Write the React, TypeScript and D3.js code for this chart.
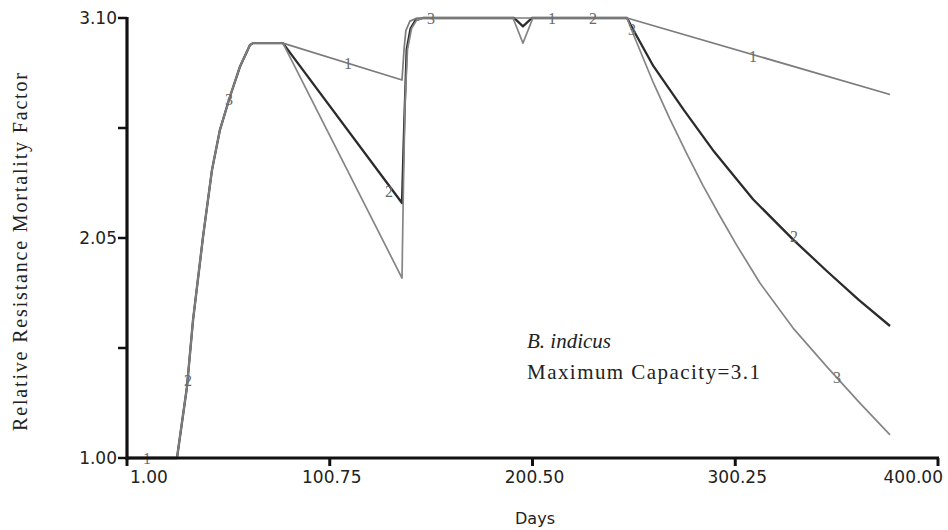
import React, { useEffect, useRef } from "react";
import * as d3 from "d3";

// shared start: all three runs coincide until day ~78
const riseDays = [1, 25.6, 30.5, 33.5, 38.4, 42.8, 46.7, 51.6, 56.5, 61.5, 63, 77.7];
const riseValues = [1.0, 1.0, 1.339, 1.659, 2.055, 2.374, 2.565, 2.723, 2.866, 2.971, 2.98, 2.98];

const days1 = [136.3, 137.3, 138.2, 140.2, 143.7, 247, 376.4];
const values1 = [2.804, 2.95, 3.04, 3.085, 3.1, 3.1, 2.735];

const days2 = [136.3, 137.4, 138.6, 140.5, 143, 146.6, 191.5, 195.8, 200.2, 247, 250, 260, 275, 290, 309, 329, 345, 361, 376.4];
const values2 = [2.217, 2.6, 2.95, 3.05, 3.09, 3.1, 3.1, 3.06, 3.1, 3.1, 3.045, 2.87, 2.66, 2.46, 2.235, 2.04, 1.895, 1.755, 1.63];

const days3 = [136.3, 137.0, 137.8, 139, 141, 143.5, 147, 190.9, 195.8, 200.7, 247, 250, 260, 268, 276.5, 284.4, 292.7, 301, 312.4, 328.7, 345.4, 361.6, 376.4];
const values3 = [1.859, 2.3, 2.7, 2.95, 3.05, 3.09, 3.1, 3.1, 2.98, 3.1, 3.1, 3.025, 2.79, 2.62, 2.45, 2.3, 2.155, 2.015, 1.835, 1.62, 1.435, 1.262, 1.11];

// small run-number markers drawn along the curves
const markerText = ["1", "2", "3", "1", "2", "3", "1", "2", "3", "1", "2", "3"];
const markerDays = [10.8, 31, 51.2, 109.7, 129.9, 150.6, 210.1, 230.3, 249.4, 309, 329.2, 350.3];
const markerValues = [1.0, 1.372, 2.709, 2.885, 2.274, 3.1, 3.1, 3.1, 3.043, 2.914, 2.055, 1.382];

const xTicks = [1.0, 100.75, 200.5, 300.25, 400.0];
const yTicks = [1.0, 1.525, 2.05, 2.575, 3.1];
const yLabelTicks = [1.0, 2.05, 3.1];

const W = 948;
const H = 530;

function Chart() {
    const ref = useRef<SVGSVGElement>(null);

    useEffect(() => {
        const svg = d3.select(ref.current);
        svg.selectAll("*").remove();

        const x = d3.scaleLinear().domain([1, 400]).range([127, 938]);
        const y = d3.scaleLinear().domain([1.0, 3.1]).range([458, 18]);

        const series = [
            { d: riseDays.concat(days2), v: riseValues.concat(values2), color: "#2b2b2b", w: 2.3 },
            { d: riseDays.concat(days3), v: riseValues.concat(values3), color: "#858585", w: 1.7 },
            { d: riseDays.concat(days1), v: riseValues.concat(values1), color: "#7c7c7c", w: 1.7 },
        ];

        const line = d3.line<[number, number]>()
            .x(p => x(p[0]))
            .y(p => y(p[1]));

        series.forEach(s => {
            const pts = s.d.map((d, i) => [d, s.v[i]] as [number, number]);
            svg.append("path")
                .attr("d", line(pts))
                .attr("fill", "none")
                .attr("stroke", s.color)
                .attr("stroke-width", s.w)
                .attr("stroke-linejoin", "round");
        });

        svg.selectAll("text.marker")
            .data(markerText)
            .enter()
            .append("text")
            .attr("class", "marker")
            .attr("x", (d, i) => x(markerDays[i]))
            .attr("y", (d, i) => y(markerValues[i]))
            .attr("text-anchor", "middle")
            .attr("dominant-baseline", "central")
            .attr("font-family", "Liberation Serif")
            .attr("font-size", 16)
            .attr("fill", "#6a6a6a")
            .text(d => d);

        // axes
        const axisColor = "#111";
        svg.append("line")
            .attr("x1", x(1)).attr("x2", x(1))
            .attr("y1", y(3.1) - 1).attr("y2", y(1) + 2)
            .attr("stroke", axisColor).attr("stroke-width", 3.2);
        svg.append("line")
            .attr("x1", x(1) - 1).attr("x2", x(400) + 1)
            .attr("y1", y(1)).attr("y2", y(1))
            .attr("stroke", axisColor).attr("stroke-width", 3.2);

        yTicks.forEach(t => {
            svg.append("line")
                .attr("x1", x(1) - 9).attr("x2", x(1))
                .attr("y1", y(t)).attr("y2", y(t))
                .attr("stroke", axisColor).attr("stroke-width", 2.5);
        });
        yLabelTicks.forEach(t => {
            svg.append("text")
                .attr("x", x(1) - 10)
                .attr("y", y(t))
                .attr("text-anchor", "end")
                .attr("dominant-baseline", "central")
                .attr("font-family", "DejaVu Sans")
                .attr("font-size", 17)
                .attr("fill", "#222")
                .text(t.toFixed(2));
        });

        xTicks.forEach((t, i) => {
            svg.append("line")
                .attr("x1", x(t)).attr("x2", x(t))
                .attr("y1", y(1)).attr("y2", y(1) + 8)
                .attr("stroke", axisColor).attr("stroke-width", 3);
            const anchor = i === 0 ? "start" : i === xTicks.length - 1 ? "end" : "middle";
            const dx = i === 0 ? 3 : i === xTicks.length - 1 ? 5 : 2;
            svg.append("text")
                .attr("x", x(t) + dx)
                .attr("y", y(1) + 25)
                .attr("text-anchor", anchor)
                .attr("font-family", "DejaVu Sans")
                .attr("font-size", 17)
                .attr("fill", "#222")
                .text(t.toFixed(2));
        });

        svg.append("text")
            .attr("x", 535)
            .attr("y", 524)
            .attr("text-anchor", "middle")
            .attr("font-family", "DejaVu Sans")
            .attr("font-size", 16)
            .attr("fill", "#222")
            .text("Days");

        svg.append("text")
            .attr("transform", "translate(27," + 252 + ") rotate(-90)")
            .attr("text-anchor", "middle")
            .attr("font-family", "Liberation Serif")
            .attr("font-size", 20)
            .attr("textLength", 358)
            .attr("lengthAdjust", "spacing")
            .attr("fill", "#222")
            .text("Relative Resistance Mortality Factor");

        svg.append("text")
            .attr("x", 527)
            .attr("y", 348)
            .attr("font-family", "Liberation Serif")
            .attr("font-style", "italic")
            .attr("font-size", 21)
            .attr("fill", "#222")
            .text("B. indicus");
        svg.append("text")
            .attr("x", 527)
            .attr("y", 379)
            .attr("font-family", "Liberation Serif")
            .attr("font-size", 21)
            .attr("textLength", 233)
            .attr("lengthAdjust", "spacing")
            .attr("fill", "#222")
            .text("Maximum Capacity=3.1");
    }, []);

    return <svg ref={ref} width={W} height={H} style={{ display: "block", background: "#fff" }} />;
}

export default function App() {
    return (
        <div style={{ position: "absolute", left: 0, top: 0 }}>
            <Chart />
        </div>
    );
}
